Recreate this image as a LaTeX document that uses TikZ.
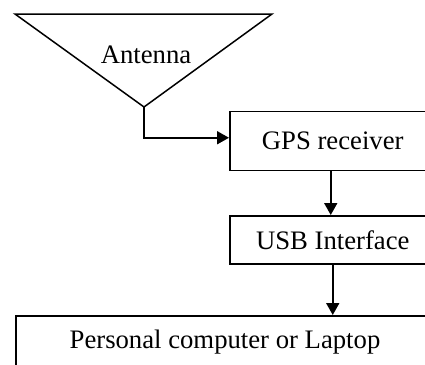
\documentclass[tikz,border=0pt]{standalone}
\usepackage{fontspec}
\setmainfont{Liberation Serif}
\usetikzlibrary{arrows.meta}
\begin{document}
\begin{tikzpicture}[x=1bp,y=-1bp,
  blk/.style={draw,line width=1.5bp,anchor=north west,inner sep=0pt,font=\fontsize{26.8}{30}\selectfont},
  lbl/.style={inner sep=0pt,font=\fontsize{26.8}{30}\selectfont},
  arr/.style={line width=1.8bp,-{Triangle[length=12bp,width=13bp]}}]
\useasboundingbox (0,0) rectangle (425,365);
\clip (0,0) rectangle (425,365);
\draw[line width=1.5bp,line join=miter] (15,14) -- (272,14) -- (144,107) -- cycle;
\coordinate (apex) at (144,107);
\node[lbl] (ant) at (146,55) {Antenna};
\node[blk,minimum width=206bp,minimum height=59bp] (gps) at (229,110.5) {GPS receiver};
\node[blk,minimum width=206bp,minimum height=48bp] (usb) at (229,215) {USB Interface};
\node[blk,minimum width=420bp,minimum height=54bp,text depth=0pt] (pc) at (15,315) {};
\node[lbl] (pct) at (225,342) {Personal computer or Laptop};
\draw[arr] (apex) |- ([yshift=3bp]gps.west);
\draw[arr] ([xshift=-2bp]gps.south) -- ([xshift=-2bp]usb.north);
\draw[arr] (usb.south) -- (usb.south |- pc.north);
\end{tikzpicture}
\end{document}
